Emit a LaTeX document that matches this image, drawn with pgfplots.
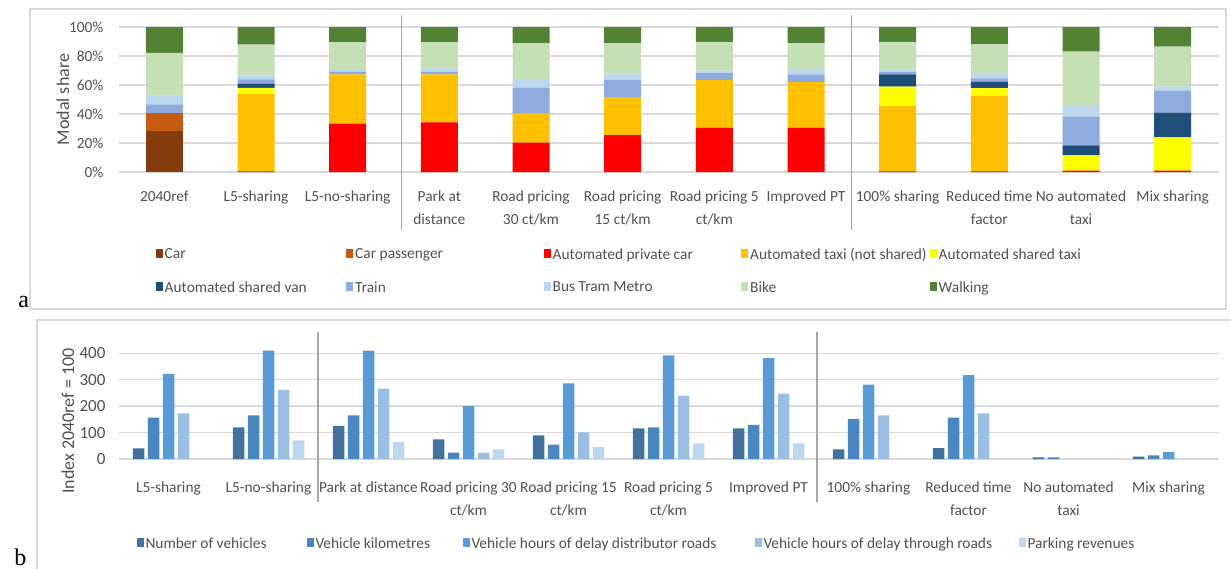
\documentclass[border=0pt]{standalone}
\usepackage{pgfplots}
\pgfplotsset{compat=1.18}
\usepackage{pgfplotstable}
\usepackage{fontspec}
\setmainfont{Carlito}
\newfontfamily\serifa{Liberation Serif}
\definecolor{txt}{HTML}{505050}
\definecolor{gridc}{HTML}{D9D9D9}
\definecolor{framec}{HTML}{D9D9D9}
\definecolor{sepc}{HTML}{A6A6A6}
\definecolor{ccar}{HTML}{843C0C}
\definecolor{ccarp}{HTML}{C55A11}
\definecolor{capc}{HTML}{FF0000}
\definecolor{cat}{HTML}{FFC000}
\definecolor{cast}{HTML}{FFFF00}
\definecolor{casv}{HTML}{1F4E79}
\definecolor{ctrain}{HTML}{8FAADC}
\definecolor{cbus}{HTML}{BDD7EE}
\definecolor{cbike}{HTML}{C5E0B4}
\definecolor{cwalk}{HTML}{548235}
\definecolor{bnv}{HTML}{41719C}
\definecolor{bvk}{HTML}{4A86C0}
\definecolor{bvhd}{HTML}{5B9BD5}
\definecolor{bvht}{HTML}{9BBFE3}
\definecolor{bpr}{HTML}{BDD7EE}

\pgfplotstableread{
x car carp apc at ast asv train bus bike walk
0 28.4 12.2 0 0 0 0 6 6 29.6 17.8
1 0 0 0.5 53.3 4.2 3.0 2.8 2.3 21.7 12.2
2 0 0 33.3 34.1 0 0 1.8 1.2 19.2 10.4
3 0 0 34.2 33.2 0 0 1.8 2.3 18.1 10.4
4 0 0 20.3 20.3 0 0 17.6 6 24.7 11.1
5 0 0 25.4 26.3 0 0 11.8 4.6 20.8 11.1
6 0 0 30.5 33 0 0 5.1 1.4 19.8 10.2
7 0 0 30.5 31.6 0 0 5.3 3 18.5 11.1
8 0 0 0.5 45.2 13.2 8.5 1.8 1.4 19.2 10.2
9 0 0 0.5 52.2 5.1 4.4 2.3 3 20.5 12
10 0 0 1 0 10.5 6.9 19.6 8.1 37 16.9
11 0 0 1 0 22.8 17.1 15 3 27.5 13.6
}\modal

\begin{document}
\begin{tikzpicture}
\useasboundingbox (0,0) rectangle (615.5pt,-284pt);
% panel frames
\draw[framec, line width=0.6pt] (15pt,-4.5pt) rectangle (613pt,-154.5pt);
\draw[framec, line width=0.6pt] (18.5pt,-300pt) -- (18.5pt,-160pt) -- (630pt,-160pt);
\node[font=\serifa\fontsize{12}{14}\selectfont, anchor=base west, inner sep=0pt] at (9pt,-153.5pt) {a};
\node[font=\serifa\fontsize{12}{14}\selectfont, anchor=base west, inner sep=0pt] at (7pt,-282.5pt) {b};

% ---------------- panel a ----------------
\begin{axis}[
 at={(59.25pt,-86pt)}, anchor=south west, scale only axis,
 width=550pt, height=72.5pt,
 ybar stacked, bar width=18.5pt,
 xmin=-0.5, xmax=11.5, ymin=0, ymax=100,
 xtick={0,...,11},
 xticklabels={2040ref, L5-sharing, L5-no-sharing, {Park at\\distance}, {Road pricing\\30 ct/km}, {Road pricing\\15 ct/km}, {Road pricing 5\\ct/km}, Improved PT, 100\% sharing, {Reduced time\\factor}, {No automated\\taxi}, Mix sharing},
 xticklabel style={align=center, font=\fontsize{7.7}{11.5}\selectfont, text=txt, yshift=-6pt},
 ytick={0,20,...,100},
 yticklabel={\pgfmathprintnumber{\tick}\%},
 yticklabel style={font=\fontsize{7.7}{9}\selectfont, text=txt, xshift=-4pt},
 /pgf/number format/assume math mode=true,
 ymajorgrids, grid style={gridc, line width=0.6pt},
 axis line style={draw=none}, major tick length=0pt,
 clip=false,
 ylabel={Modal share},
 ylabel style={at={(axis description cs:-0.0505,0.5)}, anchor=center, font=\fontsize{9}{10}\selectfont, text=txt},
 legend columns=5,
 legend image code/.code={\fill[#1] (0pt,-1.5pt) rectangle (3.5pt,3pt);},
 legend style={draw=none, fill=none, at={(axis description cs:0.0335,-0.51)}, anchor=north west,
   inner sep=0pt, row sep=7.5pt, cells={anchor=west},
   nodes={inner sep=1pt, font=\fontsize{7.7}{9}\selectfont, text=txt},
   /tikz/every even column/.append style={column sep=0pt}},
]
\addplot[fill=ccar, draw=none] table[x=x,y=car]{\modal};
\addlegendentry{\makebox[89.75pt][l]{Car}}
\addplot[fill=ccarp, draw=none] table[x=x,y=carp]{\modal};
\addlegendentry{\makebox[93.25pt][l]{Car passenger}}
\addplot[fill=capc, draw=none] table[x=x,y=apc]{\modal};
\addlegendentry{\makebox[93.25pt][l]{Automated private car}}
\addplot[fill=cat, draw=none] table[x=x,y=at]{\modal};
\addlegendentry{\makebox[88.75pt][l]{Automated taxi (not shared)}}
\addplot[fill=cast, draw=none] table[x=x,y=ast]{\modal};
\addlegendentry{Automated shared taxi}
\addplot[fill=casv, draw=none] table[x=x,y=asv]{\modal};
\addlegendentry{Automated shared van}
\addplot[fill=ctrain, draw=none] table[x=x,y=train]{\modal};
\addlegendentry{Train}
\addplot[fill=cbus, draw=none] table[x=x,y=bus]{\modal};
\addlegendentry{Bus Tram Metro}
\addplot[fill=cbike, draw=none] table[x=x,y=bike]{\modal};
\addlegendentry{Bike}
\addplot[fill=cwalk, draw=none] table[x=x,y=walk]{\modal};
\addlegendentry{Walking}
\draw[sepc, line width=0.6pt] (axis cs:2.59,108.3) -- (axis cs:2.59,-40);
\draw[sepc, line width=0.6pt] (axis cs:7.5,108.3) -- (axis cs:7.5,-40);
\end{axis}

% ---------------- panel b ----------------
\begin{axis}[
 at={(59.25pt,-229.5pt)}, anchor=south west, scale only axis,
 width=550pt, height=63.5pt,
 ybar=1.75pt, bar width=5.75pt,
 xmin=-0.5, xmax=10.5, ymin=0, ymax=480,
 xtick={0,...,10},
 xticklabels={L5-sharing, L5-no-sharing, Park at distance, {Road pricing 30\\ct/km}, {Road pricing 15\\ct/km}, {Road pricing 5\\ct/km}, Improved PT, 100\% sharing, {Reduced time\\factor}, {No automated\\taxi}, Mix sharing},
 xticklabel style={align=center, font=\fontsize{7.7}{11.5}\selectfont, text=txt, yshift=-8pt},
 ytick={0,100,...,400},
 yticklabel style={font=\fontsize{8.5}{9}\selectfont, text=txt, xshift=-3pt},
 /pgf/number format/assume math mode=true,
 ymajorgrids, grid style={gridc, line width=0.6pt},
 axis line style={draw=none}, major tick length=0pt,
 clip=false,
 ylabel={Index 2040ref = 100},
 ylabel style={at={(axis description cs:-0.0459,0.30)}, anchor=center, font=\fontsize{9}{10}\selectfont, text=txt},
 legend columns=5,
 legend image code/.code={\fill[#1] (0pt,-1.5pt) rectangle (3.5pt,3pt);},
 legend style={draw=none, fill=none, at={(axis description cs:0.016,-0.598)}, anchor=north west,
   inner sep=0pt, cells={anchor=west},
   nodes={inner sep=1pt, font=\fontsize{7.7}{9}\selectfont, text=txt},
   /tikz/every even column/.append style={column sep=0pt}},
]
\addplot[fill=bnv, draw=none] coordinates {(0,40) (1,120) (2,125) (3,74) (4,89) (5,116) (6,116) (7,36) (8,41) (9,6) (10,9)};
\addlegendentry{\makebox[79.5pt][l]{Number of vehicles}}
\addplot[fill=bvk, draw=none] coordinates {(0,156) (1,165) (2,165) (3,24) (4,54) (5,120) (6,129) (7,151) (8,156) (9,6) (10,14)};
\addlegendentry{\makebox[72.5pt][l]{Vehicle kilometres}}
\addplot[fill=bvhd, draw=none] coordinates {(0,322) (1,410) (2,410) (3,200) (4,286) (5,392) (6,381) (7,281) (8,317) (10,26)};
\addlegendentry{\makebox[140.5pt][l]{Vehicle hours of delay distributor roads}}
\addplot[fill=bvht, draw=none] coordinates {(0,172) (1,261) (2,266) (3,24) (4,101) (5,240) (6,247) (7,165) (8,172)};
\addlegendentry{\makebox[126.5pt][l]{Vehicle hours of delay through roads}}
\addplot[fill=bpr, draw=none] coordinates {(1,70) (2,65) (3,36) (4,45) (5,59) (6,59)};
\addlegendentry{Parking revenues}
\draw[sepc, line width=0.6pt] (axis cs:1.495,480) -- (axis cs:1.495,-162);
\draw[sepc, line width=0.6pt] (axis cs:6.485,480) -- (axis cs:6.485,-162);
\end{axis}
\end{tikzpicture}
\end{document}
